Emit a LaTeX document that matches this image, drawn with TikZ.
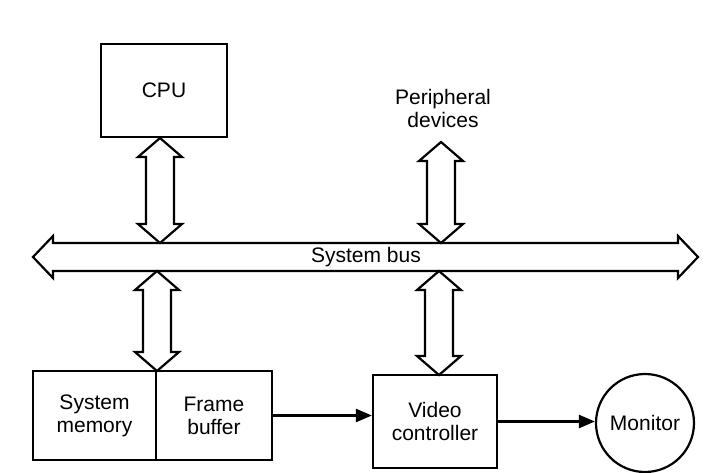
\documentclass[tikz,border=0pt]{standalone}
\usepackage{fontspec}
\setmainfont{Liberation Sans}
\usetikzlibrary{calc,arrows.meta}
\newcommand{\vdblarrow}[2]{%
  \draw[dblarrow] (#1) -- ($(#1)+(22,19)$) -- ($(#1)+(14,19)$) -- ($(#2)+(14,-19)$) -- ($(#2)+(22,-19)$) -- (#2)
    -- ($(#2)+(-22,-19)$) -- ($(#2)+(-14,-19)$) -- ($(#1)+(-14,19)$) -- ($(#1)+(-22,19)$) -- cycle;}
\begin{document}
\begin{tikzpicture}[x=1pt,y=-1pt,
  box/.style={draw,line width=2.2pt,minimum width=#1,inner sep=0pt,minimum height=90pt,font=\fontsize{21}{23}\selectfont,align=center},
  lbl/.style={font=\fontsize{21}{23}\selectfont,align=center,inner sep=0pt},
  dblarrow/.style={draw,line width=2.2pt,line join=miter,fill=white},
  conn/.style={line width=2.4pt,-{Triangle[length=16pt,width=13pt]}}]
\useasboundingbox (0,0) rectangle (712,472);
% boxes
\node[box=126pt,minimum height=93pt] (cpu) at (164,90.5) {CPU};
\node[lbl] (periph) at (443,108) {Peripheral\\devices};
\node[box=123pt,minimum height=89pt] (sysmem) at (94.5,415.5) {System\\memory};
\node[box=116pt,minimum height=89pt] (fb) at (214,415.5) {Frame\\buffer};
\node[box=124pt,minimum height=93pt] (video) at (435,421.5) {Video\\controller};
\node[draw,circle,line width=2.2pt,minimum size=98pt,inner sep=0pt,font=\fontsize{21}{23}\selectfont] (monitor) at (645,423) {Monitor};
% system bus
\coordinate (busL) at (33,257);
\coordinate (busR) at (698,257);
\draw[dblarrow] (busL) -- ($(busL)+(20,-21)$) -- ($(busL)+(20,-14)$) -- ($(busR)+(-20,-14)$) -- ($(busR)+(-20,-21)$) -- (busR)
  -- ($(busR)+(-20,21)$) -- ($(busR)+(-20,14)$) -- ($(busL)+(20,14)$) -- ($(busL)+(20,21)$) -- cycle;
\node[lbl] (bus) at (366,257) {System bus};
% bus connection points
\coordinate (cpuTop) at (160,138);
\coordinate (busCpuT) at (160,243);
\coordinate (busCpuB) at (157,271);
\coordinate (memTop) at (157,371);
\coordinate (perTop) at (441,142);
\coordinate (busPerT) at (441,243);
\coordinate (busVidB) at (439,271);
\coordinate (vidTop) at (439,375);
\vdblarrow{cpuTop}{busCpuT}
\vdblarrow{perTop}{busPerT}
\vdblarrow{busCpuB}{memTop}
\vdblarrow{busVidB}{vidTop}
% data flow
\draw[conn] (fb.east) -- (fb.east -| video.west);
\draw[conn] (video.east) -- (video.east -| monitor.west);
\end{tikzpicture}
\end{document}
